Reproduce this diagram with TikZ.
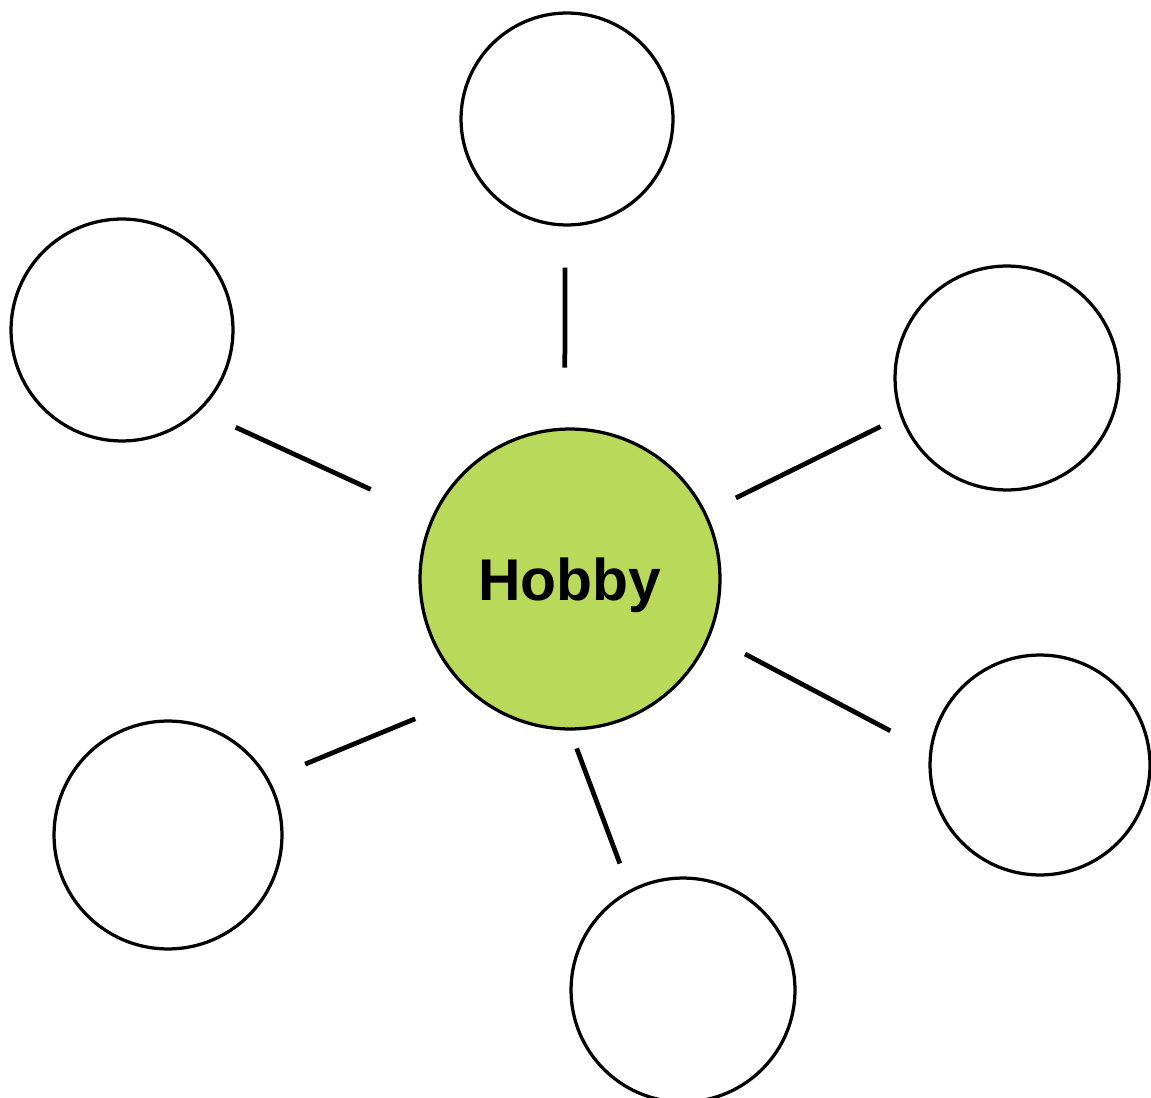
\documentclass[tikz,border=0pt]{standalone}
\usepackage{fontspec}
\setmainfont{Liberation Sans}
\definecolor{hobbygreen}{HTML}{B8D95A}
\begin{document}
\begin{tikzpicture}[x=0.02cm, y=-0.02cm,
    hub/.style = {draw, circle, line width=0.065cm, fill=hobbygreen, minimum size=6cm, inner sep=0pt,
                  font=\fontsize{33.5}{38}\selectfont\bfseries, text height=0.86cm, text depth=0pt},
    leaf/.style = {draw, circle, line width=0.065cm, inner sep=0pt},
    spoke/.style = {line width=0.095cm}]
    \useasboundingbox (0,0) rectangle (1151,1097);
    \node[hub] (hub) at (570,579) {Hobby};
    \node[leaf, minimum size=4.24cm] (top) at (567,119) {};
    \node[leaf, minimum size=4.44cm] (upleft) at (122,330) {};
    \node[leaf, minimum size=4.48cm] (upright) at (1007,378) {};
    \node[leaf, minimum size=4.4cm] (lowright) at (1040,765) {};
    \node[leaf, minimum size=4.48cm] (bottom) at (683,990) {};
    \node[leaf, minimum size=4.56cm] (lowleft) at (168,835) {};
    \draw[spoke, shorten <=1.2cm, shorten >=0.82cm] (hub.92) -- (top.-91);
    \draw[spoke, shorten <=1.34cm, shorten >=0.78cm] (hub.156) -- (upleft.-46);
    \draw[spoke, shorten <=0.66cm, shorten >=0.44cm] (hub.26) -- (upright.200);
    \draw[spoke, shorten <=0.78cm, shorten >=0.88cm] (hub.-22) -- (lowright.173);
    \draw[spoke, shorten <=0.38cm, shorten >=0.56cm] (hub.-90) -- (bottom.118);
    \draw[spoke, shorten <=1.24cm, shorten >=0.78cm] (hub.230) -- (lowleft.29);
\end{tikzpicture}
\end{document}
